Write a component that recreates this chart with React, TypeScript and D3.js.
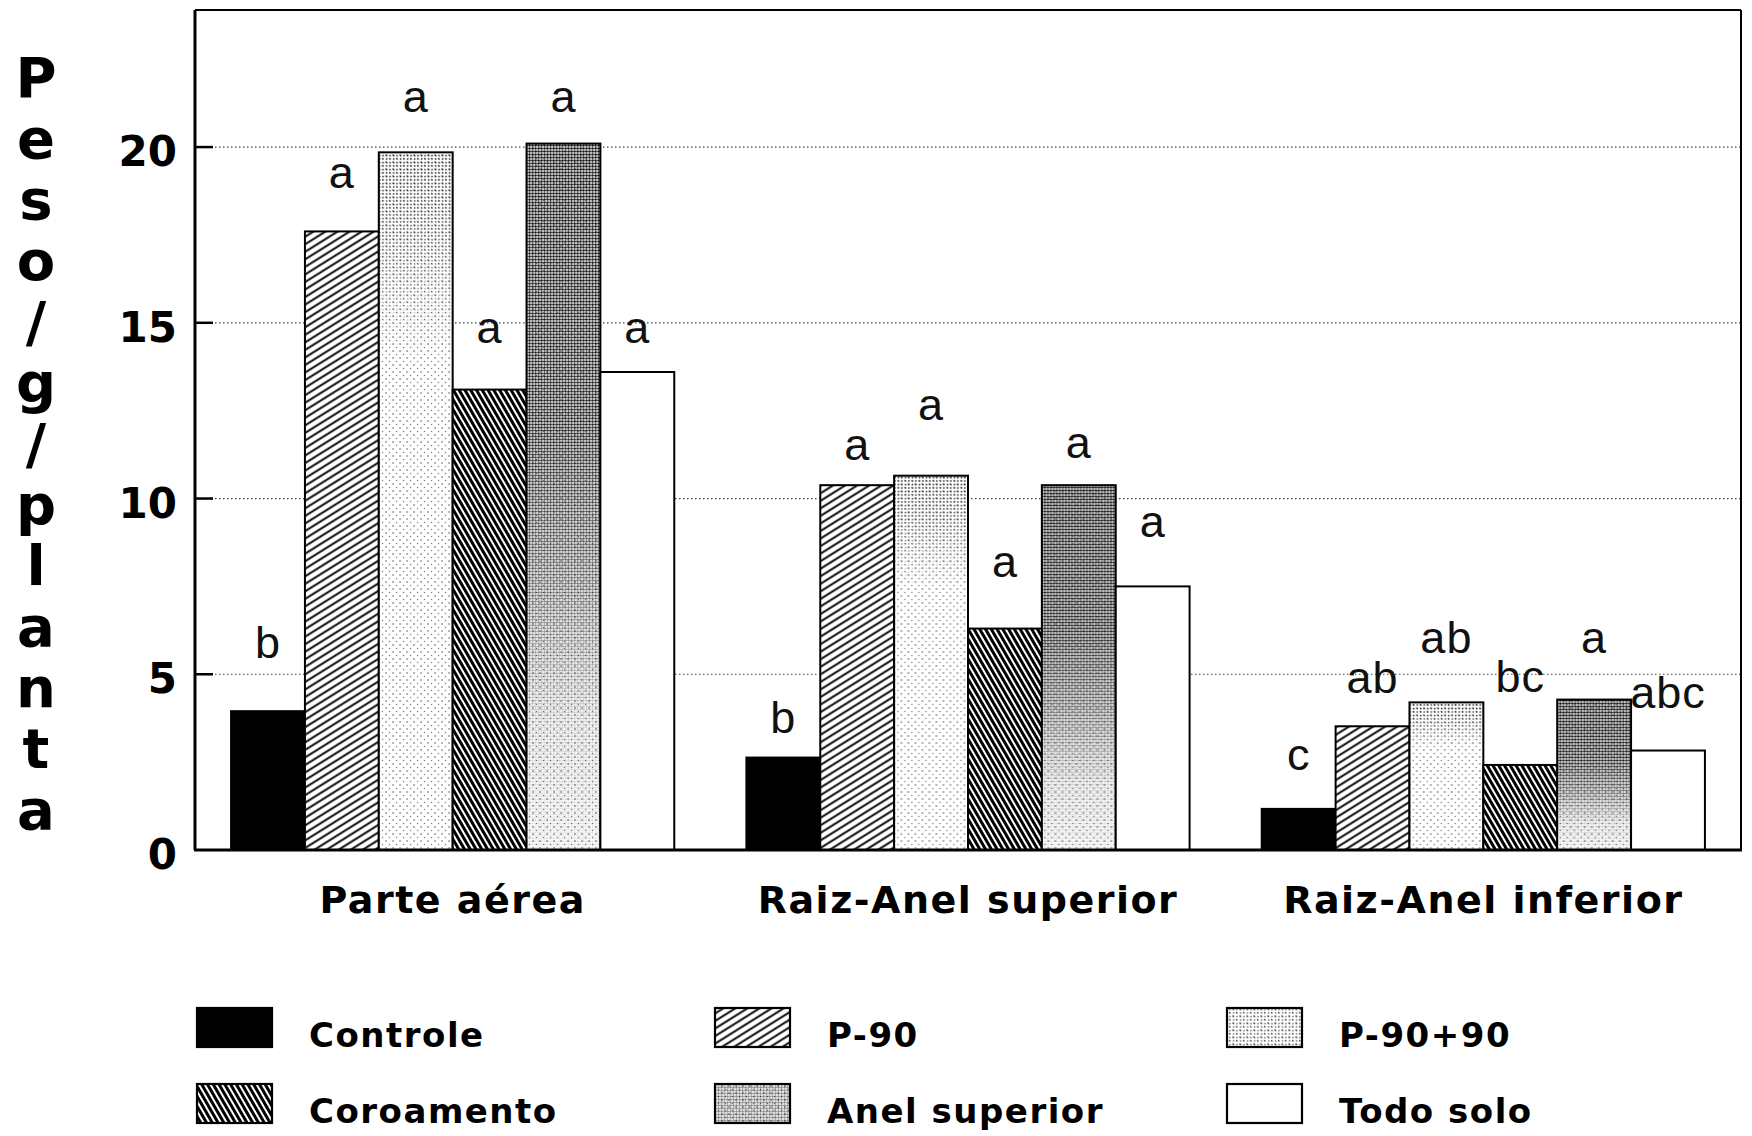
import React, { useEffect, useRef } from 'react';
import * as d3 from 'd3';

// categories on the x axis
const groups = ['Parte aérea', 'Raiz-Anel superior', 'Raiz-Anel inferior'];
// treatments (legend order)
const treatments = ['Controle', 'P-90', 'P-90+90', 'Coroamento', 'Anel superior', 'Todo solo'];

// peso (g/planta) per treatment, one array per group
const parteAerea = [3.95, 17.6, 19.85, 13.1, 20.1, 13.6];
const anelSuperior = [2.63, 10.38, 10.65, 6.3, 10.38, 7.5];
const anelInferior = [1.17, 3.52, 4.2, 2.42, 4.28, 2.83];

// significance letters
const lettersParte = ['b', 'a', 'a', 'a', 'a', 'a'];
const lettersSup = ['b', 'a', 'a', 'a', 'a', 'a'];
const lettersInf = ['c', 'ab', 'ab', 'bc', 'a', 'abc'];

// height (same units as y) where each letter sits
const letterPosParte = [5.46, 18.83, 21.0, 14.42, 21.0, 14.42];
const letterPosSup = [3.33, 11.1, 12.23, 7.77, 11.15, 8.9];
const letterPosInf = [2.28, 4.47, 5.6, 4.5, 5.6, 4.04];

const yTicks = [0, 5, 10, 15, 20];
const yMax = 23.9;
const yTitle = 'Peso/g/planta';

const App = () => {
  const svgRef = useRef<SVGSVGElement | null>(null);

  useEffect(() => {
    if (!svgRef.current) return;
    const svg = d3.select(svgRef.current);
    svg.selectAll('*').remove();

    const left = 195, right = 1741, top = 10, bottom = 850;

    const x0 = d3.scaleBand().domain(groups).range([left, right])
      .paddingInner(0.14).paddingOuter(0.07);
    const x1 = d3.scaleBand().domain(treatments).range([0, x0.bandwidth()]);
    const y = d3.scaleLinear().domain([0, yMax]).range([bottom, top]);

    const rows = [
      { group: groups[0], values: parteAerea, letters: lettersParte, pos: letterPosParte },
      { group: groups[1], values: anelSuperior, letters: lettersSup, pos: letterPosSup },
      { group: groups[2], values: anelInferior, letters: lettersInf, pos: letterPosInf }
    ];

    // ---- patterns
    const defs = svg.append('defs');

    const p90 = defs.append('pattern').attr('id', 'hatchP90')
      .attr('patternUnits', 'userSpaceOnUse').attr('width', 12).attr('height', 6.4)
      .attr('patternTransform', 'rotate(-32)');
    p90.append('rect').attr('width', 12).attr('height', 6.4).attr('fill', '#fff');
    p90.append('line').attr('x1', 0).attr('x2', 12).attr('y1', 3.2).attr('y2', 3.2)
      .attr('stroke', '#000').attr('stroke-width', 1.9);

    const coro = defs.append('pattern').attr('id', 'hatchCoro')
      .attr('patternUnits', 'userSpaceOnUse').attr('width', 5).attr('height', 12)
      .attr('patternTransform', 'rotate(-30)');
    coro.append('rect').attr('width', 5).attr('height', 12).attr('fill', '#fff');
    coro.append('line').attr('x1', 2.5).attr('x2', 2.5).attr('y1', 0).attr('y2', 12)
      .attr('stroke', '#000').attr('stroke-width', 3);

    const light = defs.append('pattern').attr('id', 'dotsLight')
      .attr('patternUnits', 'userSpaceOnUse').attr('width', 7).attr('height', 7);
    light.append('rect').attr('width', 7).attr('height', 7).attr('fill', '#fff');
    light.append('circle').attr('cx', 1).attr('cy', 1).attr('r', 0.8).attr('fill', '#555');
    light.append('circle').attr('cx', 4.5).attr('cy', 4.5).attr('r', 0.7).attr('fill', '#777');

    const mid = defs.append('pattern').attr('id', 'dotsMid')
      .attr('patternUnits', 'userSpaceOnUse').attr('width', 3.5).attr('height', 3.5);
    mid.append('circle').attr('cx', 1.5).attr('cy', 1.5).attr('r', 0.9).attr('fill', '#222');

    const dense = defs.append('pattern').attr('id', 'dotsDense')
      .attr('patternUnits', 'userSpaceOnUse').attr('width', 3).attr('height', 3);
    dense.append('circle').attr('cx', 1.5).attr('cy', 1.5).attr('r', 1.25).attr('fill', '#111');

    const addFade = (id: string, stops: [number, string][]) => {
      const g = defs.append('linearGradient').attr('id', id + 'Grad')
        .attr('x1', 0).attr('y1', 0).attr('x2', 0).attr('y2', 1);
      stops.forEach(([o, c]) => g.append('stop').attr('offset', o).attr('stop-color', c));
      defs.append('mask').attr('id', id).attr('maskContentUnits', 'objectBoundingBox')
        .append('rect').attr('width', 1).attr('height', 1).attr('fill', `url(#${id}Grad)`);
    };
    addFade('fadeAnel', [[0, '#fff'], [0.4, '#eee'], [0.62, '#999'], [0.82, '#333'], [1, '#1a1a1a']]);
    addFade('fade9090', [[0, '#fff'], [0.12, '#bbb'], [0.3, '#000'], [1, '#000']]);

    const baseFill = ['#000', 'url(#hatchP90)', 'url(#dotsLight)', 'url(#hatchCoro)', 'url(#dotsLight)', '#fff'];
    const overlay: (null | { fill: string; mask: string })[] = [
      null, null,
      { fill: 'url(#dotsMid)', mask: 'url(#fade9090)' },
      null,
      { fill: 'url(#dotsDense)', mask: 'url(#fadeAnel)' },
      null
    ];

    // ---- grid lines + ticks
    yTicks.filter(t => t > 0).forEach(t => {
      svg.append('line')
        .attr('x1', left).attr('x2', right).attr('y1', y(t)).attr('y2', y(t))
        .attr('stroke', '#444').attr('stroke-width', 1.2).attr('stroke-dasharray', '1.5,2.5');
      svg.append('line')
        .attr('x1', left).attr('x2', left + 18).attr('y1', y(t)).attr('y2', y(t))
        .attr('stroke', '#000').attr('stroke-width', 2.5);
    });

    yTicks.forEach(t => {
      svg.append('text')
        .attr('x', 177).attr('y', y(t) + 19)
        .attr('text-anchor', 'end')
        .attr('font-family', 'DejaVu Sans').attr('font-weight', 'bold').attr('font-size', 42)
        .text(t);
    });

    // ---- bars
    rows.forEach(row => {
      const g = svg.append('g').attr('transform', `translate(${x0(row.group)},0)`);
      row.values.forEach((v, i) => {
        const bx = x1(treatments[i]) as number;
        const bw = x1.bandwidth();
        g.append('rect')
          .attr('x', bx).attr('y', y(v)).attr('width', bw).attr('height', y(0) - y(v))
          .attr('fill', baseFill[i]);
        const ov = overlay[i];
        if (ov) {
          g.append('rect')
            .attr('x', bx).attr('y', y(v)).attr('width', bw).attr('height', y(0) - y(v))
            .attr('fill', ov.fill).attr('mask', ov.mask);
        }
        g.append('rect')
          .attr('x', bx).attr('y', y(v)).attr('width', bw).attr('height', y(0) - y(v))
          .attr('fill', 'none').attr('stroke', '#000').attr('stroke-width', 2);

        g.append('text')
          .attr('x', bx + bw / 2).attr('y', y(row.pos[i]))
          .attr('text-anchor', 'middle')
          .attr('font-family', 'Liberation Sans').attr('font-size', 45)
          .attr('letter-spacing', 1)
          .attr('fill', '#111')
          .text(row.letters[i]);
      });
    });

    // ---- frame
    svg.append('line').attr('x1', left).attr('x2', left).attr('y1', top).attr('y2', bottom)
      .attr('stroke', '#000').attr('stroke-width', 3);
    svg.append('line').attr('x1', left - 1).attr('x2', right + 1).attr('y1', bottom).attr('y2', bottom)
      .attr('stroke', '#000').attr('stroke-width', 3);
    svg.append('line').attr('x1', left).attr('x2', right).attr('y1', top).attr('y2', top)
      .attr('stroke', '#000').attr('stroke-width', 2);
    svg.append('line').attr('x1', right).attr('x2', right).attr('y1', top).attr('y2', bottom)
      .attr('stroke', '#000').attr('stroke-width', 2);

    // ---- group labels
    groups.forEach(gname => {
      svg.append('text')
        .attr('x', (x0(gname) as number) + x0.bandwidth() / 2).attr('y', 913)
        .attr('text-anchor', 'middle')
        .attr('font-family', 'DejaVu Sans').attr('font-weight', 'bold').attr('font-size', 38)
        .attr('letter-spacing', 1.5)
        .text(gname);
    });

    // ---- y title, one letter per line
    yTitle.split('').forEach((ch, i) => {
      svg.append('text')
        .attr('x', 36).attr('y', 97 + i * 61)
        .attr('text-anchor', 'middle')
        .attr('font-family', 'DejaVu Sans').attr('font-weight', 'bold').attr('font-size', 56)
        .text(ch);
    });

    // ---- legend
    const legendX = [197, 715, 1227];
    const legendY = [1008, 1084];
    const legendFill = ['#000', 'url(#hatchP90)', 'url(#dotsLight)', 'url(#hatchCoro)', 'url(#dotsLight)', '#fff'];
    treatments.forEach((name, i) => {
      const lx = legendX[i % 3];
      const ly = legendY[Math.floor(i / 3)];
      svg.append('rect').attr('x', lx).attr('y', ly).attr('width', 75).attr('height', 39)
        .attr('fill', legendFill[i]);
      if (i === 2) {
        svg.append('rect').attr('x', lx).attr('y', ly).attr('width', 75).attr('height', 39)
          .attr('fill', 'url(#dotsMid)').attr('opacity', 0.6);
      }
      if (i === 4) {
        svg.append('rect').attr('x', lx).attr('y', ly).attr('width', 75).attr('height', 39)
          .attr('fill', 'url(#dotsDense)').attr('opacity', 0.5);
      }
      svg.append('rect').attr('x', lx).attr('y', ly).attr('width', 75).attr('height', 39)
        .attr('fill', 'none').attr('stroke', '#000').attr('stroke-width', 2.2);
      svg.append('text')
        .attr('x', lx + 112).attr('y', ly + 39)
        .attr('font-family', 'DejaVu Sans').attr('font-weight', 'bold').attr('font-size', 34)
        .attr('letter-spacing', 1.5)
        .text(name);
    });
  }, []);

  return (
    <div style={{ position: 'absolute', left: 0, top: 0, width: 1752, height: 1136, background: '#fff' }}>
      <svg ref={svgRef} width={1752} height={1136} style={{ display: 'block' }} />
    </div>
  );
};

export default App;
